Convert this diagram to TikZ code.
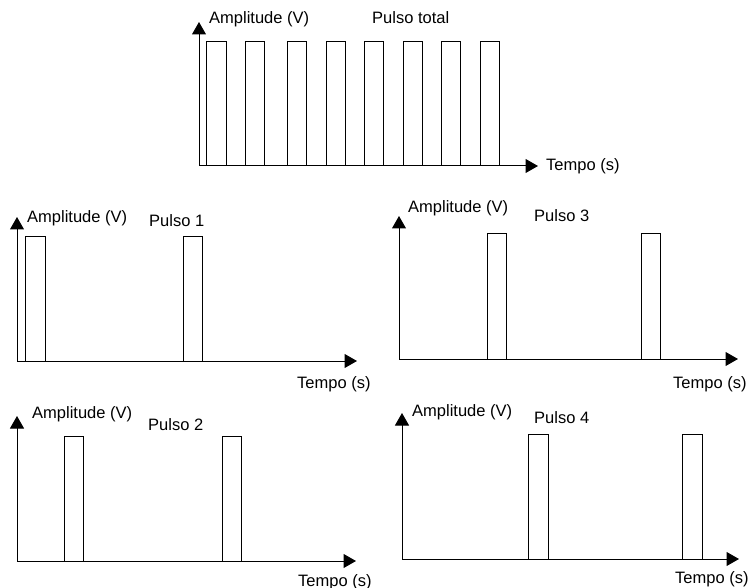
\documentclass[tikz,border=0pt]{standalone}
\usepackage{fontspec}
\setmainfont{Liberation Sans}
\usetikzlibrary{arrows.meta}
\begin{document}
\begin{tikzpicture}[x=1pt,y=-1pt,
  axis/.style={line width=1pt,-{Triangle[length=12.5pt,width=14pt]}},
  pulse/.style={draw,line width=1pt},
  lbl/.style={anchor=base west,inner sep=0pt,font=\fontsize{16.5}{18}\selectfont}]
\useasboundingbox (0,0) rectangle (750,588);
% ---------- Pulso total ----------
\coordinate (o0) at (199,166);
\coordinate (y0) at (199,22);
\coordinate (x0) at (538,166);
\draw[axis] (o0) -- (y0);
\draw[axis] (o0) -- (x0);
\foreach \a/\b in {206/226,245/264,287/306,326/345,364/383,403/422,441/460,480/499}
  \draw[pulse] (\a,166) rectangle (\b,42);
\node[lbl] (a0) at (209,24) {Amplitude (V)};
\node[lbl] (p0) at (372,24) {Pulso total};
\node[lbl] (t0) at (546,171) {Tempo (s)};
% ---------- Pulso 1 ----------
\coordinate (o1) at (17,361);
\coordinate (y1) at (17,217);
\coordinate (x1) at (357,361);
\draw[axis] (o1) -- (y1);
\draw[axis] (o1) -- (x1);
\foreach \a/\b in {25/45,183/202}
  \draw[pulse] (\a,361) rectangle (\b,237);
\node[lbl] (a1) at (27,223) {Amplitude (V)};
\node[lbl] (p1) at (149,227) {Pulso 1};
\node[lbl] (t1) at (297,388) {Tempo (s)};
% ---------- Pulso 3 ----------
\coordinate (o3) at (399,359);
\coordinate (y3) at (399,216);
\coordinate (x3) at (738,359);
\draw[axis] (o3) -- (y3);
\draw[axis] (o3) -- (x3);
\foreach \a/\b in {487/506,641/660}
  \draw[pulse] (\a,359) rectangle (\b,234);
\node[lbl] (a3) at (408,213) {Amplitude (V)};
\node[lbl] (p3) at (534,222) {Pulso 3};
\node[lbl] (t3) at (673,388) {Tempo (s)};
% ---------- Pulso 2 ----------
\coordinate (o2) at (17,561);
\coordinate (y2) at (17,416);
\coordinate (x2) at (356,561);
\draw[axis] (o2) -- (y2);
\draw[axis] (o2) -- (x2);
\foreach \a/\b in {64/83,222/241}
  \draw[pulse] (\a,561) rectangle (\b,436);
\node[lbl] (a2) at (32,418) {Amplitude (V)};
\node[lbl] (p2) at (148,430) {Pulso 2};
\node[lbl] (t2) at (298,586) {Tempo (s)};
% ---------- Pulso 4 ----------
\coordinate (o4) at (402,559);
\coordinate (y4) at (402,413);
\coordinate (x4) at (739,559);
\draw[axis] (o4) -- (y4);
\draw[axis] (o4) -- (x4);
\foreach \a/\b in {528/548,682/702}
  \draw[pulse] (\a,559) rectangle (\b,434);
\node[lbl] (a4) at (412,416) {Amplitude (V)};
\node[lbl] (p4) at (534,423) {Pulso 4};
\node[lbl] (t4) at (675,583) {Tempo (s)};
\end{tikzpicture}
\end{document}
